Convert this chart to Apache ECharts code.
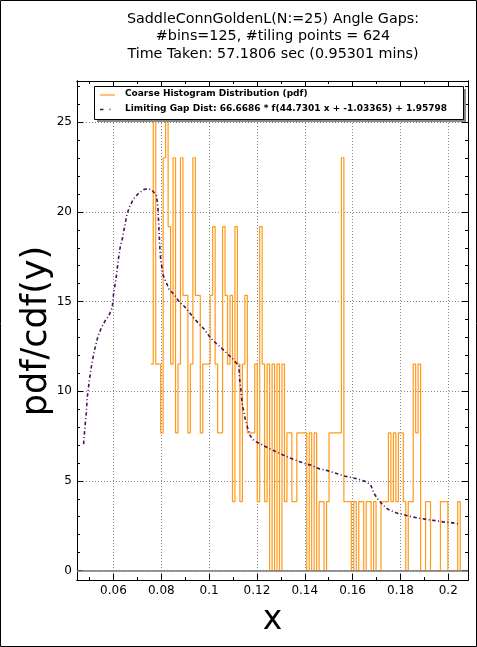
<!DOCTYPE html>
<html><head><meta charset="utf-8">
<script src="https://cdn.jsdelivr.net/npm/echarts@6/dist/echarts.min.js"></script>
<style>html,body{margin:0;padding:0;background:#fff}#c{width:477px;height:647px}</style>
</head><body><div id="c"></div>
<script>
// ---- data ----
const histLo = 0.0756;   // first bin edge
const histHi = 0.2050;   // last bin edge
const histValues = [
 11.51,26.85,11.51,11.51,7.67,23.02,26.85,19.18,11.51,23.02,
 7.67,11.51,23.02,15.34,15.34,7.67,11.51,23.02,15.34,15.34,
 7.67,11.51,11.51,11.51,15.34,19.18,11.51,7.67,7.67,19.18,
 15.34,11.51,15.34,3.84,19.18,11.51,3.84,11.51,15.34,7.67,
 7.67,7.67,11.51,3.84,19.18,11.51,3.84,11.51,0,11.51,
 0,11.51,0,11.51,3.84,7.67,7.67,3.84,3.84,7.67,
 7.67,7.67,7.67,0,7.67,0,7.67,0,3.84,3.84,
 0,3.84,7.67,7.67,7.67,7.67,7.67,23.02,3.84,3.84,
 3.84,0,3.84,0,3.84,3.84,0,3.84,3.84,0,
 3.84,0,0,3.84,3.84,3.84,7.67,3.84,7.67,3.84,
 7.67,7.67,3.84,0,3.84,3.84,11.51,7.67,11.51,0,
 0,3.84,3.84,0,0,0,0,3.84,3.84,3.84,
 0,0,0,0,3.84
];
const curveX = [0.0475,0.048,0.0486,0.049,0.0499,0.0508,0.052,0.0536,0.055,0.0564,0.058,0.0595,0.0601,0.0611,0.062,0.0629,0.0637,0.0657,0.0668,0.0683,0.0702,0.0727,0.0745,0.0762,0.078,0.0786,0.079,0.0793,0.0797,0.0807,0.0832,0.0853,0.0874,0.0895,0.092,0.0941,0.0962,0.0983,0.1004,0.1027,0.1052,0.1075,0.11,0.1124,0.1128,0.1132,0.1138,0.1151,0.116,0.117,0.1187,0.1216,0.1247,0.1278,0.1307,0.1338,0.1368,0.14,0.1431,0.1463,0.1495,0.1526,0.1559,0.1589,0.1621,0.1652,0.1676,0.1687,0.1704,0.1726,0.175,0.1785,0.1817,0.1848,0.188,0.1913,0.1946,0.1978,0.2011,0.2046];
const curveY = [7.05,7.9,8.7,9.6,10.6,11.4,12.25,13.1,13.55,13.9,14.2,14.66,15.5,16.3,17.3,18.1,18.5,19.9,20.3,20.7,21.0,21.25,21.3,21.2,20.9,20.2,19.1,18.2,17.4,16.5,15.7,15.4,15.0,14.75,14.35,14.0,13.7,13.4,13.0,12.7,12.4,12.1,11.8,11.4,10.6,10.2,9.3,8.45,8.0,7.55,7.24,7.05,6.83,6.64,6.46,6.27,6.12,5.97,5.85,5.66,5.57,5.44,5.29,5.2,5.1,4.97,4.77,4.36,4.0,3.66,3.4,3.2,3.1,2.99,2.91,2.84,2.78,2.71,2.67,2.6];
const xMajor = [0.06,0.08,0.1,0.12,0.14,0.16,0.18,0.2];
const xMinor = [0.05,0.07,0.09,0.11,0.13,0.15,0.17,0.19];
const yMajor = [0,5,10,15,20,25];
const yMinor = [1,2,3,4,6,7,8,9,11,12,13,14,16,17,18,19,21,22,23,24,26,27];
const xRange = [0.04475, 0.20825];
const yRange = [-0.53, 27.3];
const titleLines = ['SaddleConnGoldenL(N:=25) Angle Gaps:', '#bins=125, #tiling points = 624', 'Time Taken: 57.1806 sec (0.95301 mins)'];
const legendNames = ['Coarse Histogram Distribution (pdf)', 'Limiting Gap Dist: 66.6686 * f(44.7301 x + -1.03365) + 1.95798'];

// ---- build ----
const nBins = histValues.length;
const bw = (histHi - histLo) / nBins;
const histData = histValues.map((v, i) => [histLo + i * bw, v]);
histData.push([histHi, 0]);
const curveData = curveX.map((x, i) => [x, curveY[i]]);

const FONT = 'DejaVu Sans';
const G = {left: 77, top: 81, width: 391, height: 499};
function xAx(pos, vals, len, main) {
  return {type:'value', position:pos, min:xRange[0], max:xRange[1],
    axisLine:{show:true, onZero:false, lineStyle:{color:'#000', width:1}},
    axisTick:{show:true, inside:true, length:len, customValues:vals, lineStyle:{color:'#000', width:1}},
    axisLabel:{show:main, customValues:vals, color:'#000', fontFamily:FONT, fontSize:12, margin:5},
    splitLine:{show:main, lineStyle:{color:'#666', width:0.8, type:[1,2]}}};
}
function yAx(pos, vals, len, main) {
  return {type:'value', position:pos, min:yRange[0], max:yRange[1],
    axisLine:{show:true, onZero:false, lineStyle:{color:'#000', width:1}},
    axisTick:{show:true, inside:true, length:len, customValues:vals, lineStyle:{color:'#000', width:1}},
    axisLabel:{show:main, customValues:vals, color:'#000', fontFamily:FONT, fontSize:12, margin:5},
    splitLine:{show:main, lineStyle:{color:'#666', width:0.8, type:[1,2]}}};
}

const titleGraphics = titleLines.map((t, i) => ({type:'text', x:273, y:19 + i * 17.6,
  style:{text:t, fontFamily:FONT, fontSize:14.3, fill:'#000', align:'center', verticalAlign:'middle'}, z:52}));

const chart = echarts.init(document.getElementById('c'), null, {renderer:'canvas'});
chart.setOption({
  animation:false,
  backgroundColor:'#fff',
  grid: G,
  xAxis:[xAx('bottom', xMajor, 6, true), xAx('bottom', xMinor, 3, false), xAx('top', xMajor, 6, false), xAx('top', xMinor, 3, false)],
  yAxis:[yAx('left', yMajor, 6, true), yAx('left', yMinor, 3, false), yAx('right', yMajor, 6, false), yAx('right', yMinor, 3, false)],
  series:[
    {type:'line', name:legendNames[0], data:histData, step:'end', showSymbol:false, symbol:'none',
      lineStyle:{color:'#ff9a1a', width:1.2}, z:3, clip:true,
      markLine:{silent:true, symbol:'none', label:{show:false},
        lineStyle:{color:'#777', width:1.5, type:'solid'}, data:[{yAxis:0}]}},
    {type:'line', name:legendNames[1], data:curveData, showSymbol:false, symbol:'none',
      lineStyle:{color:'#4b0f5a', width:1.6, type:[3.5,2.5,1,2.5]}, z:4}
  ],
  graphic:[
    {type:'rect', shape:{x:0.5, y:0.5, width:476, height:646}, style:{fill:'none', stroke:'#000', lineWidth:1}, silent:true, z:100},
    {type:'rect', shape:{x:97, y:89, width:369, height:33}, style:{fill:'#888'}, z:50},
    {type:'rect', shape:{x:94.5, y:86.5, width:369, height:33}, style:{fill:'#fff', stroke:'#000', lineWidth:1}, z:51},
    {type:'line', shape:{x1:100, y1:95, x2:115, y2:95}, style:{stroke:'#ff9a1a', lineWidth:1.2}, z:52},
    {type:'line', shape:{x1:100, y1:109.5, x2:115, y2:109.5}, style:{stroke:'#4b0f5a', lineWidth:1.6, lineDash:[3.5,6,1,10]}, z:52},
    {type:'text', left:125, top:89.5, style:{text:legendNames[0], fontFamily:FONT, fontSize:9, fontWeight:'bold', fill:'#000'}, z:52},
    {type:'text', left:125, top:104, style:{text:legendNames[1], fontFamily:FONT, fontSize:9, fontWeight:'bold', fill:'#000'}, z:52},
    {type:'text', x:37, y:331, rotation:Math.PI/2, style:{text:'pdf/cdf(y)', fontFamily:FONT, fontSize:35, fill:'#000', align:'center', verticalAlign:'middle'}, z:52},
    {type:'text', x:272.5, y:620, style:{text:'x', fontFamily:FONT, fontSize:33, fill:'#000', align:'center', verticalAlign:'middle'}, z:52}
  ].concat(titleGraphics)
});
</script></body></html>
